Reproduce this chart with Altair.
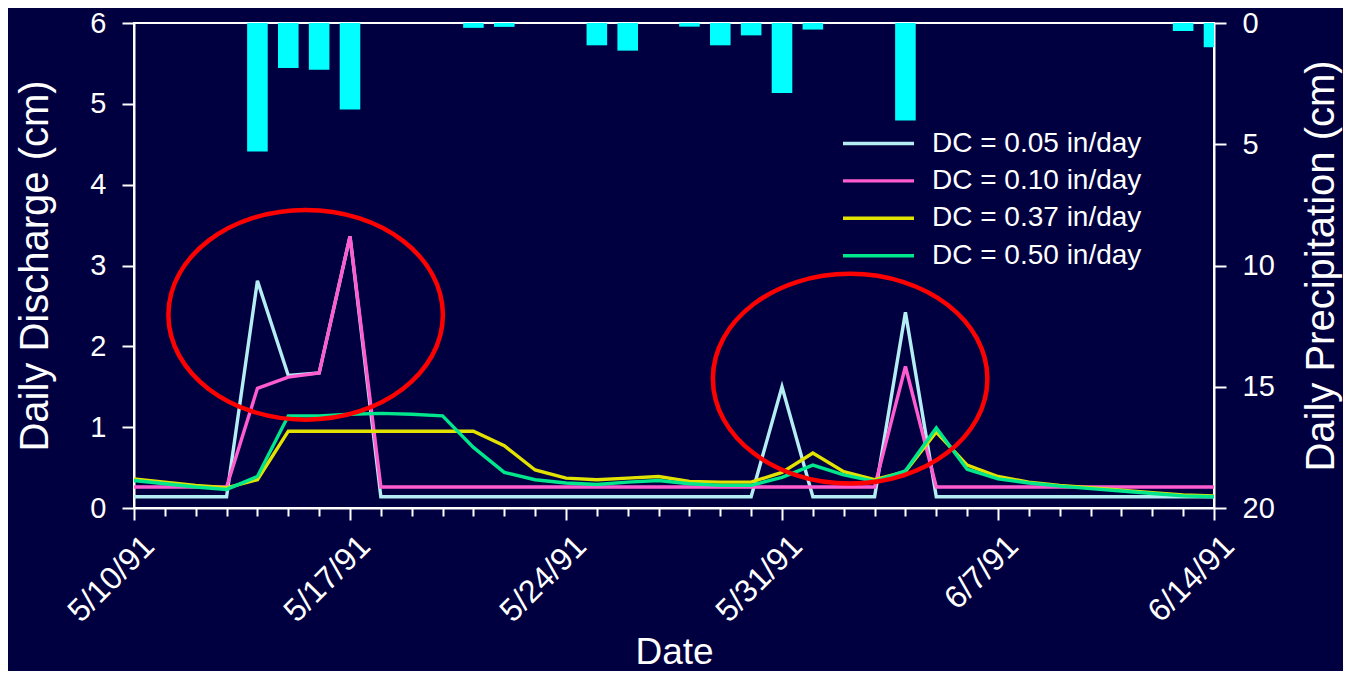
import altair as alt
import pandas as pd

# ---------------- data ----------------
DAYS = pd.date_range("1991-05-10", "1991-06-14", freq="D")

SERIES = ["DC = 0.05 in/day", "DC = 0.10 in/day", "DC = 0.37 in/day", "DC = 0.50 in/day"]
COLORS = ["#B4EEF2", "#FF5CCF", "#E2E200", "#00E68C"]

DC_005 = [0.14, 0.14, 0.14, 0.14, 2.81, 1.64, 1.67, 3.36,
          0.14, 0.14, 0.14, 0.14, 0.14, 0.14, 0.14, 0.14, 0.14, 0.14, 0.14, 0.14, 0.14,
          1.50, 0.14, 0.14, 0.14, 2.42,
          0.14, 0.14, 0.14, 0.14, 0.14, 0.14, 0.14, 0.14, 0.14, 0.14]
DC_010 = [0.26, 0.26, 0.26, 0.26, 1.48, 1.62, 1.67, 3.36,
          0.26, 0.26, 0.26, 0.26, 0.26, 0.26, 0.26, 0.26, 0.26, 0.26, 0.26, 0.26, 0.26,
          0.26, 0.26, 0.26, 0.26, 1.75,
          0.26, 0.26, 0.26, 0.26, 0.26, 0.26, 0.26, 0.26, 0.26, 0.26]
DC_037 = [0.36, 0.32, 0.28, 0.25, 0.35, 0.95, 0.95, 0.95, 0.95, 0.95, 0.95, 0.95,
          0.77, 0.47, 0.37, 0.35, 0.37, 0.39, 0.33, 0.32, 0.32, 0.44, 0.68, 0.45,
          0.35, 0.45, 0.94, 0.53, 0.39, 0.32, 0.28, 0.25, 0.22, 0.19, 0.16, 0.15]
DC_050 = [0.34, 0.30, 0.26, 0.23, 0.39, 1.14, 1.14, 1.16, 1.17, 1.16, 1.14, 0.75,
          0.44, 0.35, 0.31, 0.29, 0.32, 0.34, 0.30, 0.28, 0.28, 0.38, 0.53, 0.41,
          0.33, 0.46, 0.99, 0.48, 0.36, 0.31, 0.27, 0.24, 0.21, 0.18, 0.15, 0.14]

PRECIP_DATES = ["1991-05-14", "1991-05-15", "1991-05-16", "1991-05-17", "1991-05-21",
                "1991-05-22", "1991-05-25", "1991-05-26", "1991-05-28", "1991-05-29",
                "1991-05-30", "1991-05-31", "1991-06-01", "1991-06-04", "1991-06-13",
                "1991-06-14"]
PRECIP_CM = [5.3, 1.86, 1.93, 3.57, 0.2, 0.16, 0.92, 1.14, 0.15, 0.92,
             0.51, 2.89, 0.27, 4.02, 0.33, 1.0]

ELLIPSE_DATES = ["1991-05-15T13:30:00", "1991-06-02T05:00:00"]
ELLIPSE_Y = [2.39, 1.60]

# ---------------- tables ----------------
lines_df = pd.concat([
    pd.DataFrame({"date": DAYS, "value": vals, "series": name})
    for name, vals in zip(SERIES, [DC_005, DC_010, DC_037, DC_050])
], ignore_index=True)

pdates = pd.to_datetime(PRECIP_DATES)
bars_df = pd.DataFrame({
    "start": pdates - pd.Timedelta(hours=8),
    "end": pdates + pd.Timedelta(hours=8),
    "precip": PRECIP_CM,
})

ell_df = pd.DataFrame({"date": pd.to_datetime(ELLIPSE_DATES), "value": ELLIPSE_Y})

# ---------------- shared pieces ----------------
FONT = "Liberation Sans"
x_domain = [alt.DateTime(year=1991, month=5, date=10), alt.DateTime(year=1991, month=6, date=14)]
tick_values = [alt.DateTime(year=int(d.year), month=int(d.month), date=int(d.day)) for d in DAYS]
n_ticks = len(DAYS) - 1

x_axis = alt.Axis(
    values=tick_values,
    title="Date",
    titleFontSize=37,
    titlePadding=7,
    labelExpr=f"round(datum.index*{n_ticks}) % 7 == 0 ? timeFormat(datum.value, '%-m/%-d/%y') : ''",
    labelAngle=315,
    labelAlign="right",
    labelBaseline="top",
    labelFontSize=32,
    labelPadding=10,
    labelOffset=4,
    labelFlush=False,
    labelOverlap=False,
    tickSize={"condition": {"test": f"round(datum.index*{n_ticks}) % 7 == 0", "value": 12}, "value": 8},
)
x_scale = alt.Scale(domain=x_domain, nice=False, padding=0)

bars = alt.Chart(bars_df).mark_bar(color="#00FFFF", clip=True, orient="vertical").encode(
    x=alt.X("start:T", scale=x_scale, axis=x_axis),
    x2="end:T",
    y=alt.Y("precip:Q",
            scale=alt.Scale(domain=[0, 20], reverse=True, nice=False),
            axis=alt.Axis(orient="right", values=[0, 5, 10, 15, 20], title="Daily Precipitation (cm)",
                          tickSize=12, labelPadding=16, labelFontSize=29,
                          titleFontSize=40, titleAngle=270, titleBaseline="top", titlePadding=27)),
    y2=alt.datum(0),
)

lines = alt.Chart(lines_df).mark_line(strokeWidth=3.4).encode(
    x=alt.X("date:T", scale=x_scale, axis=x_axis),
    y=alt.Y("value:Q",
            scale=alt.Scale(domain=[0, 6], nice=False),
            axis=alt.Axis(orient="left", values=[0, 1, 2, 3, 4, 5, 6], title="Daily Discharge (cm)",
                          tickSize=12, labelPadding=16, labelFontSize=29,
                          titleFontSize=40, titlePadding=34)),
    color=alt.Color("series:N",
                    scale=alt.Scale(domain=SERIES, range=COLORS),
                    legend=alt.Legend(title=None, orient="none", legendX=707, legendY=104,
                                      symbolType="stroke", symbolSize=5041, symbolStrokeWidth=3.4,
                                      labelFontSize=28, labelFont=FONT, labelColor="white",
                                      labelOffset=16, clipHeight=33, rowPadding=4.4, padding=0,
                                      labelLimit=400)),
)

ELLIPSE_PATH = ("M -1 0 C -1 -0.422 -0.5523 -0.764 0 -0.764 C 0.5523 -0.764 1 -0.422 1 0 "
                "C 1 0.422 0.5523 0.764 0 0.764 C -0.5523 0.764 -1 0.422 -1 0 Z")

ellipses = alt.Chart(ell_df).mark_point(
    shape=ELLIPSE_PATH, size=75350, filled=False, stroke="#FF0000", strokeWidth=4.5, opacity=1
).encode(
    x=alt.X("date:T", scale=x_scale, axis=x_axis),
    y=alt.Y("value:Q", scale=alt.Scale(domain=[0, 6], nice=False), axis=None),
)

chart = alt.layer(bars, lines, ellipses).resolve_scale(y="independent").properties(
    width=1080, height=485,
    autosize=alt.AutoSizeParams(type="none"),
    padding={"left": 126, "top": 15, "right": 129, "bottom": 163},
    background="#000040",
).configure_view(
    stroke="white", strokeWidth=2,
).configure_axis(
    domainColor="white", domainWidth=2, tickColor="white", tickWidth=2,
    labelColor="white", titleColor="white", labelFont=FONT, titleFont=FONT,
    titleFontWeight="normal", grid=False,
)

chart.save("out.html", embed_options={"renderer": "svg", "actions": False})
